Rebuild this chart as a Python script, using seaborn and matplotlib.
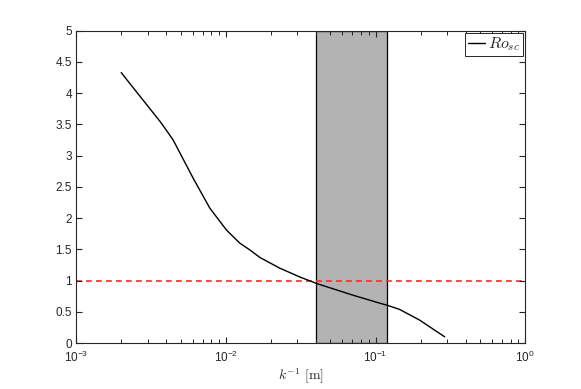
import pandas as pd
import matplotlib
matplotlib.use('Agg')
import matplotlib.pyplot as plt
from matplotlib.ticker import NullFormatter
import seaborn as sns

# values
k_inv = [0.002, 0.00363, 0.004, 0.00445, 0.00605, 0.00782, 0.0101, 0.0124,
         0.0145, 0.0169, 0.0229, 0.0311, 0.0403, 0.07, 0.1063, 0.12, 0.1445,
         0.1965, 0.29]
ro_sc = [4.33, 3.55, 3.41, 3.25, 2.64, 2.16, 1.81, 1.60,
         1.49, 1.37, 1.20, 1.06, 0.955, 0.77, 0.64, 0.605, 0.54,
         0.37, 0.10]
band = [0.04, 0.12]
threshold = 1.0
x_ticks = [1e-3, 1e-2, 1e-1, 1e0]
y_ticks = [0, 0.5, 1, 1.5, 2, 2.5, 3, 3.5, 4, 4.5, 5]

sns.set_style('ticks')
plt.rcParams['font.family'] = ['Liberation Sans', 'DejaVu Sans']
plt.rcParams['mathtext.fontset'] = 'cm'

df = pd.DataFrame({'k_inv': k_inv, 'Ro': ro_sc})

fig = plt.figure(figsize=(5.81, 3.89), dpi=100)
ax = fig.add_axes([0.131, 0.118, 0.773, 0.803])
ax.set_axisbelow(False)  # ticks drawn over the grey band, as in MATLAB

# shaded band
ax.axvspan(band[0], band[1], facecolor='#b3b3b3', edgecolor='k', lw=0.9, zorder=1)
ax.axhline(threshold, color='#ff2a2a', ls=(0, (3.5, 2.5)), lw=1.2, zorder=2)
sns.lineplot(data=df, x='k_inv', y='Ro', ax=ax, color='k', lw=1.0,
             label=r'$Ro_{sc}$', zorder=3)

ax.set_xscale('log')
ax.set_xlim(x_ticks[0], x_ticks[-1])
ax.set_ylim(0, 5)
ax.set_xticks(x_ticks)
minor_x = [m * d for d in x_ticks[:-1] for m in range(2, 10)]
ax.set_xticks(minor_x, minor=True)
ax.xaxis.set_minor_formatter(NullFormatter())
ax.set_yticks(y_ticks)
ax.set_yticks([], minor=True)
ax.set_yticklabels([f'{t:g}' for t in y_ticks])
ax.set_xlabel(r'$k^{-1}\ [\mathrm{m}]$', fontsize=10, labelpad=1)
ax.set_ylabel('')

for s in ax.spines.values():
    s.set_visible(True)
    s.set_color('#262626')
    s.set_linewidth(0.8)
ax.tick_params(which='both', direction='in', top=True, right=True,
               bottom=True, left=True, color='#262626', labelcolor='#262626')
ax.tick_params(axis='x', which='major', pad=5)
ax.tick_params(axis='y', which='major', pad=3)
ax.tick_params(which='major', length=4.5, width=0.8, labelsize=8.5)
ax.tick_params(axis='x', which='minor', length=3, width=0.7)

leg = ax.legend(loc='upper right', handlelength=1.1, handletextpad=0.2,
                borderpad=0.15, borderaxespad=0.15, fontsize=11.5, fancybox=False,
                framealpha=1)
leg.get_frame().set_edgecolor('#262626')
leg.get_frame().set_linewidth(0.7)

fig.savefig('out.png', dpi=100)
